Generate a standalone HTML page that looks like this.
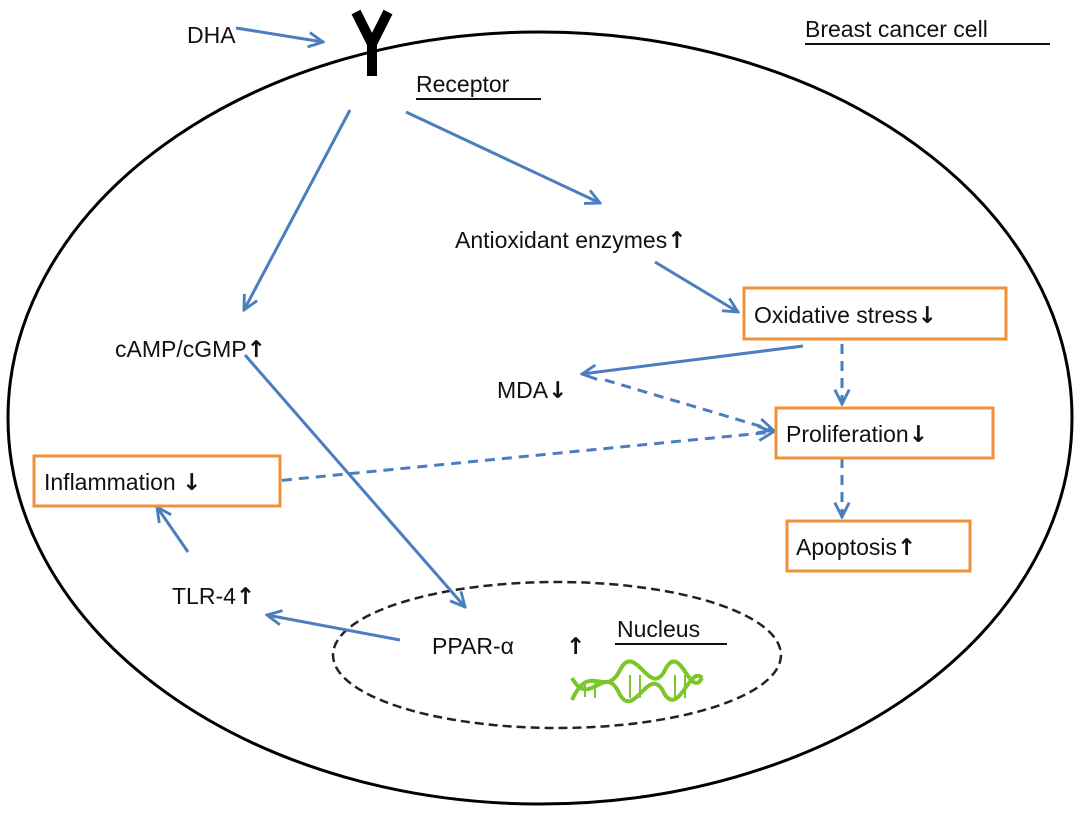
<!DOCTYPE html>
<html><head><meta charset="utf-8"><style>html,body{margin:0;padding:0;background:#fff}svg{display:block}.ar{font-family:"DejaVu Sans",sans-serif;font-weight:bold}</style></head>
<body>
<svg width="1083" height="820" viewBox="0 0 1083 820" xmlns="http://www.w3.org/2000/svg" font-family="Liberation Sans, sans-serif" font-size="23" fill="#111">
<defs>
<marker id="a" viewBox="0 0 10 10" refX="9" refY="5" markerWidth="6" markerHeight="6" orient="auto" markerUnits="strokeWidth"><path d="M1,1 L9,5 L1,9" fill="none" stroke="#4a7ebf" stroke-width="1.6"/></marker>
</defs>
<ellipse cx="540" cy="418" rx="532" ry="386" fill="none" stroke="#000" stroke-width="3"/>
<ellipse cx="557" cy="655" rx="224" ry="73" fill="none" stroke="#222" stroke-width="2.5" stroke-dasharray="9,5"/>
<path d="M356,12 L372,44 L388,12" fill="none" stroke="#000" stroke-width="10" stroke-linejoin="miter"/>
<line x1="372" y1="42" x2="372" y2="76" stroke="#000" stroke-width="10"/>
<g stroke="#4a7ebf" stroke-width="3" fill="none" marker-end="url(#a)">
<line x1="236" y1="28" x2="323" y2="42"/>
<line x1="350" y1="110" x2="244" y2="310"/>
<line x1="406" y1="112" x2="600" y2="203"/>
<line x1="655" y1="262" x2="738" y2="312"/>
<line x1="803" y1="346" x2="582" y2="374"/>
<line x1="245" y1="355" x2="465" y2="607"/>
<line x1="400" y1="640" x2="267" y2="615"/>
<line x1="188" y1="552" x2="157" y2="507"/>
<g stroke-dasharray="10,7">
<line x1="842" y1="344" x2="842" y2="404"/>
<line x1="605" y1="380" x2="773" y2="430"/>
<line x1="265" y1="482" x2="773" y2="432"/>
<line x1="842" y1="458" x2="842" y2="517"/>
</g>
</g>
<g fill="#fff" stroke="#f0923a" stroke-width="3">
<rect x="744" y="288" width="262" height="51"/>
<rect x="776" y="408" width="217" height="50"/>
<rect x="787" y="521" width="183" height="50"/>
<rect x="34" y="456" width="246" height="50"/>
</g>
<text x="187" y="43">DHA</text>
<text x="805" y="37">Breast cancer cell</text>
<line x1="805" y1="44" x2="1050" y2="44" stroke="#111" stroke-width="2"/>
<text x="416" y="92">Receptor</text>
<line x1="416" y1="99" x2="541" y2="99" stroke="#111" stroke-width="2"/>
<text x="455" y="248">Antioxidant enzymes<tspan class="ar">↑</tspan></text>
<text x="115" y="357">cAMP/cGMP<tspan class="ar">↑</tspan></text>
<text x="497" y="398">MDA<tspan class="ar">↓</tspan></text>
<text x="754" y="323">Oxidative stress<tspan class="ar">↓</tspan></text>
<text x="786" y="442">Proliferation<tspan class="ar">↓</tspan></text>
<text x="796" y="555">Apoptosis<tspan class="ar">↑</tspan></text>
<text x="44" y="490">Inflammation <tspan class="ar">↓</tspan></text>
<text x="172" y="604">TLR-4<tspan class="ar">↑</tspan></text>
<text x="432" y="654">PPAR-α</text>
<text x="566" y="654" class="ar">↑</text>
<text x="617" y="637">Nucleus</text>
<line x1="615" y1="644" x2="727" y2="644" stroke="#111" stroke-width="2"/>
<g stroke="#7cc52a" stroke-width="4" fill="none">
<path d="M572,700 C590,660 605,700 620,670 C635,640 650,700 665,670 C680,640 690,700 702,678"/>
<path d="M572,678 C590,710 605,660 620,695 C635,720 650,660 665,695 C680,715 690,665 702,678"/>
</g>
<g stroke="#7cc52a" stroke-width="2">
<line x1="585" y1="682" x2="585" y2="697"/><line x1="595" y1="680" x2="595" y2="698"/><line x1="630" y1="675" x2="630" y2="698"/><line x1="640" y1="675" x2="640" y2="698"/><line x1="675" y1="675" x2="675" y2="698"/><line x1="685" y1="675" x2="685" y2="698"/>
</g>
</svg>
</body></html>
